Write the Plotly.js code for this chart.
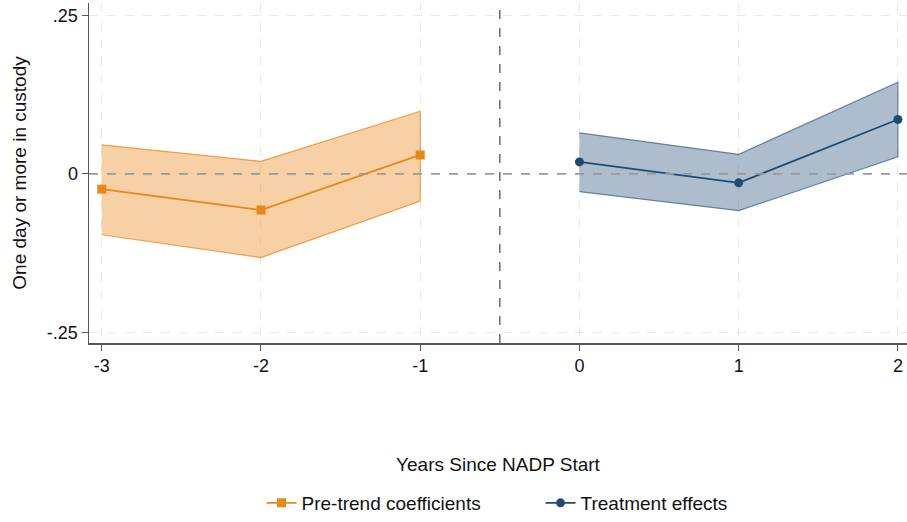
<!DOCTYPE html>
<html>
<head>
<meta charset="utf-8">
<script src="https://cdn.plot.ly/plotly-3.0.1.min.js"></script>
<style>html,body{margin:0;padding:0;background:#fff;}#chart{width:907px;height:522px;}</style>
</head>
<body>
<div id="chart"></div>
<script>
const preYears = [-3, -2, -1];
const preCoef = [-0.024, -0.057, 0.030];
const preUpper = [0.046, 0.020, 0.099];
const preLower = [-0.096, -0.132, -0.043];

const postYears = [0, 1, 2];
const postCoef = [0.019, -0.014, 0.086];
const postUpper = [0.065, 0.031, 0.145];
const postLower = [-0.028, -0.058, 0.027];

const xTicks = [-3, -2, -1, 0, 1, 2];
const yTicks = [-0.25, 0, 0.25];
const yTickText = ['-.25', '0', '.25'];

const orange = '#e8871a';
const blue = '#1f4a72';

function band(xs, up, lo, fill, line) {
  return {
    x: xs.concat(xs.slice().reverse()),
    y: up.concat(lo.slice().reverse()),
    type: 'scatter', mode: 'lines', fill: 'toself',
    fillcolor: fill, line: {color: line, width: 1.2},
    showlegend: false, hoverinfo: 'skip'
  };
}

const traces = [
  band(preYears, preUpper, preLower, 'rgba(235,143,40,0.42)', 'rgba(232,135,26,0.75)'),
  band(postYears, postUpper, postLower, 'rgba(40,82,125,0.38)', 'rgba(31,74,114,0.6)'),
  {x: preYears, y: preCoef, type: 'scatter', mode: 'lines+markers', name: 'Pre-trend coefficients',
   line: {color: orange, width: 1.8}, marker: {symbol: 'square', size: 9, color: orange}},
  {x: postYears, y: postCoef, type: 'scatter', mode: 'lines+markers', name: 'Treatment effects',
   line: {color: blue, width: 1.8}, marker: {symbol: 'circle', size: 9, color: blue}}
];

const layout = {
  width: 907, height: 522,
  margin: {l: 89, r: 0, t: 3, b: 177},
  paper_bgcolor: '#fff', plot_bgcolor: '#fff',
  font: {family: 'Liberation Sans, Arial, sans-serif', color: '#111', size: 18},
  xaxis: {
    range: [-3.08, 2.057], tickvals: xTicks, ticktext: xTicks.map(String),
    showgrid: true, gridcolor: '#e8e8e8', griddash: 'dash', gridwidth: 1,
    zeroline: false, showline: true, linecolor: '#555', linewidth: 1.5,
    ticks: 'outside', ticklen: 6, tickcolor: '#555', tickfont: {size: 18},
    title: {text: 'Years Since NADP Start', font: {size: 19}, standoff: 82}
  },
  yaxis: {
    range: [-0.267, 0.27], tickvals: yTicks, ticktext: yTickText,
    showgrid: true, gridcolor: '#e8e8e8', griddash: 'dash', gridwidth: 1,
    zeroline: false, showline: true, linecolor: '#555', linewidth: 1.5,
    ticks: 'outside', ticklen: 6, tickcolor: '#555', tickfont: {size: 18},
    title: {text: 'One day or more in custody', font: {size: 19}, standoff: 15}
  },
  shapes: [
    {type: 'line', xref: 'x', yref: 'paper', x0: -0.5, x1: -0.5, y0: 0, y1: 1,
     line: {color: '#555', width: 1.3, dash: 'dash'}},
    {type: 'line', xref: 'paper', yref: 'y', x0: 0, x1: 1, y0: 0, y1: 0,
     line: {color: '#999', width: 1.8, dash: 'dash'}}
  ],
  legend: {orientation: 'h', x: 0.552, xanchor: 'center', y: -0.472, yanchor: 'middle',
           font: {size: 19}, bgcolor: 'rgba(0,0,0,0)', entrywidth: 234},
  showlegend: true
};

Plotly.newPlot('chart', traces, layout, {displayModeBar: false, staticPlot: true});
</script>
</body>
</html>
